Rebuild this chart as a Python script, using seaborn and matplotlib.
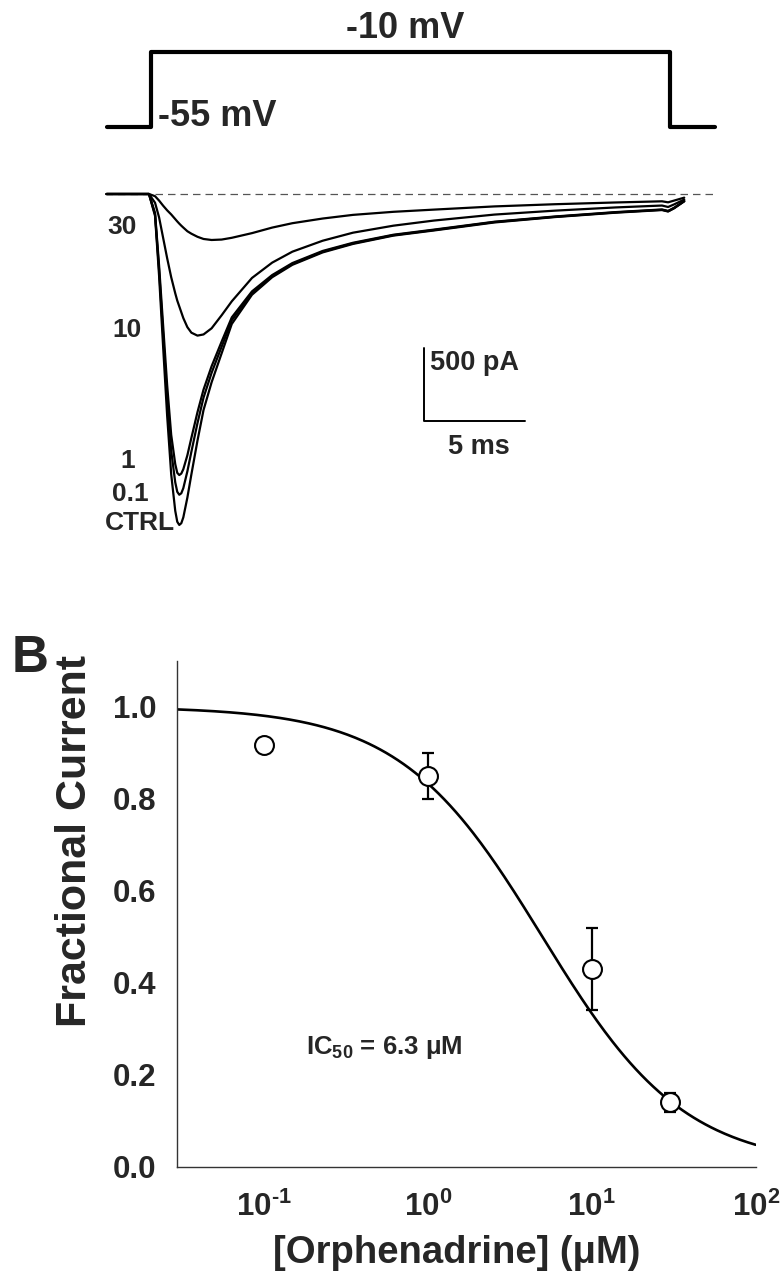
import numpy as np
import pandas as pd
import matplotlib
matplotlib.use("Agg")
import matplotlib.pyplot as plt
from matplotlib.ticker import MultipleLocator, FuncFormatter, LogLocator, NullFormatter
import seaborn as sns

# ---------------- Data ----------------
# Voltage protocol (ms, mV)
protocol_t = [-2.2, 0.0, 0.0, 25.7, 25.7, 27.9]
protocol_v = [-55, -55, -10, -10, -55, -55]

# Current traces (time in ms, current in pA)
trace_t = [-2.2, -0.1, 0.2, 0.4, 0.6, 0.8, 1.0, 1.2, 1.3, 1.4, 1.5, 1.6, 1.8, 2.0, 2.3, 2.6,
           3.0, 3.5, 4.0, 5.0, 6.0, 7.0, 8.5, 10.0, 12.0, 14.0, 17.0, 20.0, 23.0, 25.3, 25.6,
           25.9, 26.4]
trace_ctrl = [0, 0, -150, -560, -1046, -1520, -1920, -2170, -2245, -2267, -2255, -2215, -2080,
              -1920, -1690, -1480, -1290, -1090, -890, -690, -570, -485, -400, -342, -285, -250,
              -195, -158, -128, -110, -120, -98, -50]
trace_01 = [0, 0, -140, -520, -960, -1400, -1760, -1975, -2040, -2060, -2050, -2015, -1900,
            -1765, -1570, -1395, -1225, -1045, -865, -678, -562, -479, -395, -338, -282, -247,
            -192, -156, -126, -108, -118, -96, -49]
trace_1 = [0, 0, -130, -490, -900, -1310, -1650, -1850, -1910, -1925, -1915, -1885, -1790,
           -1670, -1495, -1340, -1180, -1010, -845, -667, -555, -473, -390, -334, -279, -244,
           -190, -154, -124, -106, -116, -94, -48]
trace_10 = [0, 0, -60, -160, -300, -440, -570, -680, -730, -770, -810, -850, -912, -950, -970,
            -962, -920, -830, -735, -575, -470, -395, -320, -265, -217, -182, -141, -114, -92,
            -79, -89, -71, -38]
trace_30 = [0, 0, -15, -45, -80, -112, -140, -172, -188, -203, -217, -230, -255, -272, -293,
            -308, -315, -312, -300, -268, -230, -200, -168, -143, -122, -107, -85, -70, -58,
            -50, -57, -45, -25]
trace_names = ["CTRL", "0.1", "1", "10", "30"]

# Dose-response
conc = [0.1, 1.0, 10.0, 30.0]
frac_current = [0.917, 0.85, 0.43, 0.14]
frac_sem = [0.0, 0.05, 0.09, 0.02]
fit_ic50 = 5.0
fit_hill = 1.0
ic50_text = r"$\mathbf{IC_{50}}$ = 6.3 μM"

# ---------------- Style ----------------
sns.set_style("white")
plt.rcParams["font.family"] = ["Liberation Sans", "DejaVu Sans"]
plt.rcParams["font.weight"] = "bold"
plt.rcParams["mathtext.fontset"] = "custom"
plt.rcParams["mathtext.rm"] = "Liberation Sans:bold"
plt.rcParams["mathtext.bf"] = "Liberation Sans:bold"
plt.rcParams["mathtext.it"] = "Liberation Sans:bold:italic"

W, H = 784, 1286
fig = plt.figure(figsize=(W / 100, H / 100), dpi=100)


def px_axes(x0, y0, x1, y1):
    return fig.add_axes([x0 / W, 1 - y1 / H, (x1 - x0) / W, (y1 - y0) / H])


TLIM = (-2.525, 28.17)

# ---------------- Voltage protocol ----------------
ax_v = px_axes(100, 0, 720, 150)
sns.lineplot(x=protocol_t, y=protocol_v, ax=ax_v, color="black", lw=3.0, sort=False,
             estimator=None)
ax_v.set_xlim(*TLIM)
ax_v.set_ylim(-68.8, 21.2)
ax_v.axis("off")
ax_v.text(12.57, -1.5, "-10 mV", ha="center", va="baseline", fontsize=26, fontweight="bold")
ax_v.text(0.35, -54.5, "-55 mV", ha="left", va="baseline", fontsize=26, fontweight="bold")

# ---------------- Current traces ----------------
ax_i = px_axes(100, 180, 720, 540)
traces = [trace_ctrl, trace_01, trace_1, trace_10, trace_30]
df = pd.concat([pd.DataFrame({"t": trace_t, "I": tr, "cond": nm})
                for nm, tr in zip(trace_names, traces)], ignore_index=True)
sns.lineplot(data=df, x="t", y="I", hue="cond", palette={n: "black" for n in trace_names},
             ax=ax_i, lw=1.6, sort=False, estimator=None, legend=False)
ax_i.axhline(0, xmin=0.008, xmax=0.992, color="#555555", lw=0.9, ls=(0, (6, 4)), zorder=0)
ax_i.set_xlim(*TLIM)
ax_i.set_ylim(-2370, 95.9)
ax_i.axis("off")

lab_pos = {"30": (-1.44, -226), "10": (-1.19, -932), "1": (-1.14, -1829),
           "0.1": (-1.04, -2055), "CTRL": (-0.56, -2254)}
for nm in trace_names:
    x, y = lab_pos[nm]
    ax_i.text(x, y, nm, ha="center", va="center", fontsize=19, fontweight="bold")

# scale bar: 5 ms x 500 pA
sb_t, sb_i = 13.51, -1555
ax_i.plot([sb_t, sb_t, sb_t + 5], [sb_i + 500, sb_i, sb_i], color="black", lw=1.4)
ax_i.text(sb_t + 0.3, sb_i + 400, "500 pA", ha="left", va="center", fontsize=19.5,
          fontweight="bold")
ax_i.text(sb_t + 2.7, sb_i - 180, "5 ms", ha="center", va="center", fontsize=19.5,
          fontweight="bold")

# ---------------- Dose-response ----------------
ax = px_axes(177.3, 660.7, 755.7, 1166.7)
ax.set_xscale("log")
x_fit = np.logspace(np.log10(0.0297), 2, 300)
y_fit = 1.0 / (1.0 + (x_fit / fit_ic50) ** fit_hill)
sns.lineplot(x=x_fit, y=y_fit, ax=ax, color="black", lw=1.9, zorder=1)
ax.errorbar(conc, frac_current, yerr=frac_sem, fmt="none", ecolor="black", elinewidth=1.6,
            capsize=4.5, capthick=1.6, zorder=2)
sns.scatterplot(x=conc, y=frac_current, ax=ax, marker="o", s=185, facecolor="white",
                edgecolor="black", linewidth=1.5, zorder=3)
ax.set_xlim(0.0297, 100)
ax.set_ylim(0, 1.1)

for s in ["top", "right"]:
    ax.spines[s].set_visible(False)
for s in ["left", "bottom"]:
    ax.spines[s].set_color("#333333")
    ax.spines[s].set_linewidth(1.0)

ax.yaxis.set_major_locator(MultipleLocator(0.2))
ax.yaxis.set_minor_locator(MultipleLocator(0.1))
ax.yaxis.set_major_formatter(FuncFormatter(lambda v, p: f"{v:.1f}"))
ax.xaxis.set_major_locator(LogLocator(base=10, numticks=10))
ax.xaxis.set_minor_locator(LogLocator(base=10, subs=np.arange(2, 10), numticks=20))
ax.xaxis.set_major_formatter(
    FuncFormatter(lambda v, p: r"$\mathbf{10}^{\text{%d}}$" % round(np.log10(v))))
ax.xaxis.set_minor_formatter(NullFormatter())
ax.tick_params(axis="both", which="major", direction="out", length=5, width=1.0,
               color="#333333", labelsize=22.5)
ax.tick_params(axis="both", which="minor", direction="out", length=3, width=1.0,
               color="#333333")
ax.tick_params(axis="y", which="major", pad=10)
ax.tick_params(axis="x", which="major", pad=13)
for lab in ax.get_yticklabels():
    lab.set_fontweight("bold")

ax.set_ylabel("Fractional Current", fontsize=31, fontweight="bold")
ax.yaxis.set_label_coords(-0.142, 0.644)
ax.set_xlabel("[Orphenadrine] (μM)", fontsize=27.5, fontweight="bold", labelpad=10)
ax.xaxis.set_label_coords(0.483, -0.135)

ax.text(0.182, 0.26, ic50_text, ha="left", va="center", fontsize=18.5, fontweight="bold")

fig.text(12 / W, 1 - 658 / H, "B", ha="left", va="center", fontsize=37, fontweight="bold")

fig.savefig("out.png", dpi=100)
